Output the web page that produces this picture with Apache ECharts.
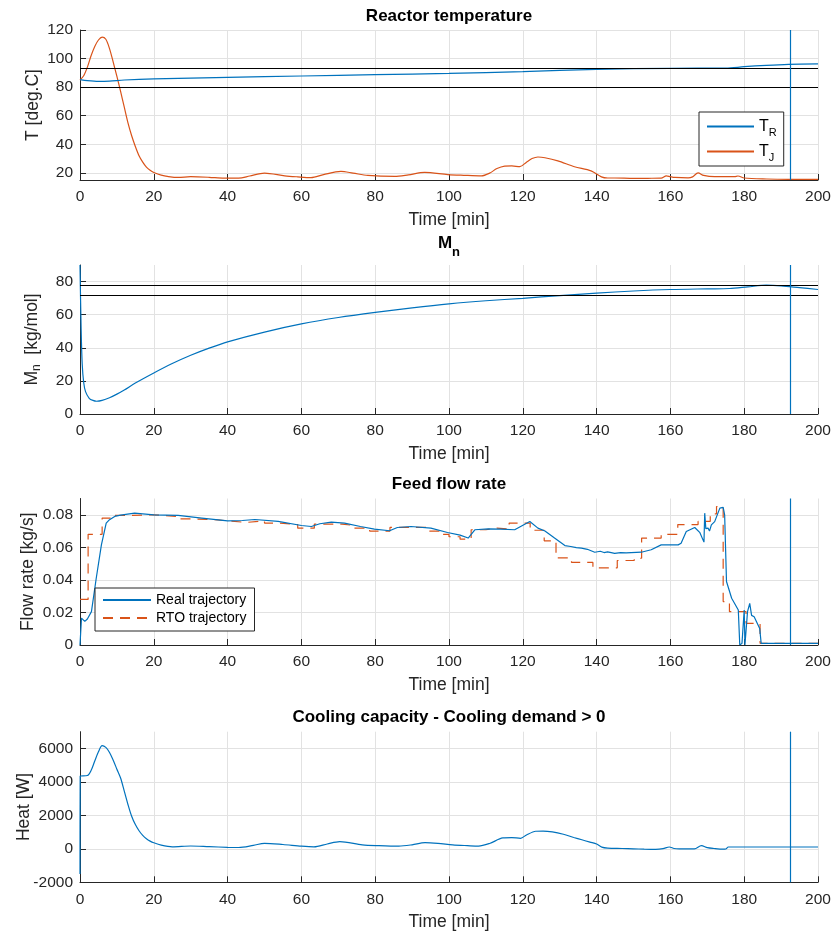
<!DOCTYPE html>
<html>
<head>
<meta charset="utf-8">
<script src="https://cdn.jsdelivr.net/npm/echarts@6/dist/echarts.min.js"></script>
<style>
  html, body { margin: 0; padding: 0; background: #fff; }
  #chart { width: 832px; height: 934px; }
</style>
</head>
<body>
<div id="chart"></div>
<script>
// ---------- Reactor temperature ----------
const TIME_TR = [0, 2, 5, 8, 12, 20, 40, 60, 80, 100, 120, 140, 160, 175, 180, 186, 192, 200];
const TEMP_TR = [85.2, 84.5, 84.0, 84.2, 85.0, 85.8, 86.8, 87.8, 88.7, 89.6, 90.8, 92.5, 93.2, 93.3, 94.3, 95.3, 96.0, 96.3];

const TIME_TJ = [0, 1, 2, 3, 4, 5, 6, 7, 8, 9, 10, 11, 12, 13, 14, 15, 16, 17, 18, 19, 20, 22, 24, 26.6, 30, 35, 39, 43, 46, 50, 55.5, 59, 62.6, 66, 70.7, 74, 78, 85.3, 89, 93.4, 99.7, 104, 108.8, 111, 113, 115.1, 117, 119.2, 121, 122.5, 124.1, 126, 129.5, 134, 138.5, 141.3, 143, 144.9, 150, 153.9, 157.5, 158.9, 160, 161.2, 164.8, 166, 167.5, 169, 172, 177.4, 178.3, 180, 186.1, 192, 200];
const TEMP_TJ = [85, 88, 94, 102, 108.5, 113, 115, 113.5, 107, 97.5, 87.5, 77, 66, 55, 46, 38.5, 32, 27.5, 24, 21.8, 20.3, 18.4, 17.4, 16.8, 17.3, 16.9, 16.3, 16.3, 17.8, 19.8, 17.9, 17.2, 16.7, 18.8, 21, 19.8, 18.2, 17.5, 18.6, 20.3, 18.8, 18.3, 17.9, 19.8, 23, 24.7, 24.9, 24.3, 27.5, 30, 31.1, 30.6, 28.4, 24.3, 21.4, 17.2, 16.4, 16.4, 16.1, 16.2, 16.3, 17.9, 17.3, 16.8, 16.5, 17.2, 20, 18.2, 17.3, 17.3, 17.8, 16.4, 15.7, 15.5, 15.5];
const TEMP_LIMITS = [93, 80];

// ---------- Number-average molar mass ----------
const TIME_MN = [0, 0.3, 0.6, 1, 1.5, 2.5, 3.5, 4.5, 6, 8, 10, 12, 15, 20, 25, 30, 35, 40, 50, 60, 70, 80, 90, 100, 110, 120, 130, 140, 150, 160, 170, 176, 181, 186, 190, 195, 200];
const MN = [90, 52, 30, 19, 13.5, 9.5, 8.2, 7.7, 8.2, 9.8, 12, 14.5, 18.7, 24.8, 30.5, 35.5, 39.8, 43.6, 49.5, 54.4, 58.3, 61.4, 64.1, 66.5, 68.4, 69.9, 71.5, 73, 74.3, 75.2, 75.6, 75.8, 76.8, 77.8, 77.4, 76.3, 75.2];
const MN_LIMITS = [78, 72];

// ---------- Feed flow rate ----------
const TIME_FLOW = [0, 0.4, 1.3, 2, 3.1, 4.4, 5.8, 7.1, 8, 9.4, 11, 14.8, 20, 26.6, 33, 40, 44, 47.4, 53.7, 60, 62.7, 65, 68.1, 71.7, 76, 79.8, 83.9, 86, 89.7, 95.1, 99.6, 103, 105.2, 107, 110.6, 114, 117.8, 121.9, 124.1, 126, 128.6, 131.4, 133, 134.5, 135.9, 137.5, 138.5, 139.5, 141, 142, 143, 144.9, 146.5, 148, 152.1, 154.8, 157.5, 162.1, 162.9, 164.3, 166.6, 168, 169.1, 169.3, 169.6, 170.2, 170.6, 171.1, 172, 173.4, 174.3, 174.7, 175.2, 176.6, 178.4, 178.8, 179.4, 180, 180.2, 180.6, 180.9, 181.5, 182, 182.7, 184.2, 184.6, 200];
const FLOW_REAL = [0, 0.0165, 0.0145, 0.016, 0.0205, 0.041, 0.0615, 0.0749, 0.077, 0.079, 0.0798, 0.081, 0.080, 0.0796, 0.078, 0.0763, 0.0765, 0.0771, 0.0759, 0.0734, 0.0728, 0.0745, 0.0755, 0.0749, 0.0728, 0.0712, 0.0702, 0.0722, 0.0728, 0.0718, 0.0691, 0.0675, 0.0657, 0.0708, 0.0714, 0.0712, 0.0708, 0.0759, 0.0718, 0.0700, 0.0657, 0.0611, 0.0605, 0.0598, 0.0595, 0.0588, 0.0579, 0.057, 0.0576, 0.0568, 0.0572, 0.0563, 0.0568, 0.0566, 0.057, 0.0585, 0.0615, 0.0615, 0.0625, 0.0697, 0.0722, 0.069, 0.0632, 0.081, 0.0715, 0.0718, 0.070, 0.0738, 0.0758, 0.0841, 0.0845, 0.080, 0.039, 0.0287, 0.0215, 0.0, 0.001, 0.0215, 0.0, 0.0, 0.0205, 0.0256, 0.0182, 0.0174, 0.0102, 0.001, 0.001];

const TIME_RTO = [0, 2.2, 6, 8.5, 13, 20, 26, 30, 36, 40, 45, 50, 54, 59, 63.5, 71, 74, 78.5, 84, 94.5, 97.3, 100, 103, 106, 110, 113, 116.3, 122, 125.8, 129, 133.2, 139, 145.6, 150.2, 152.2, 157.5, 162, 167.5, 170.8, 172.5, 174.3, 176, 180.5, 184.3, 200];
const FLOW_RTO = [0.028, 0.068, 0.078, 0.0796, 0.080, 0.079, 0.0775, 0.0771, 0.0763, 0.0753, 0.0763, 0.0749, 0.074, 0.0718, 0.0743, 0.0735, 0.0718, 0.070, 0.0722, 0.070, 0.068, 0.0665, 0.065, 0.0708, 0.0718, 0.0712, 0.0749, 0.0705, 0.064, 0.0535, 0.0507, 0.0474, 0.0519, 0.0533, 0.0657, 0.068, 0.074, 0.0759, 0.0806, 0.0851, 0.0267, 0.0205, 0.0133, 0.001, 0.001];

// ---------- Cooling capacity minus cooling demand ----------
const TIME_Q = [0, 0.05, 2, 3, 4, 5, 6, 7, 8, 9, 10, 11, 12, 13, 14, 15, 16, 17, 18, 19, 20, 22, 25, 30, 35, 40, 43, 47, 50, 55, 60, 63.4, 67, 70.4, 76.5, 81, 86.4, 90, 93.5, 97, 101, 105, 108, 111, 114.6, 117, 119.4, 121, 123.5, 125.5, 128, 131, 133.8, 136, 138.2, 140, 141.4, 143, 146.9, 150, 152.9, 156, 158, 159.7, 161, 162.4, 166.5, 168.4, 170, 171.8, 174.3, 175, 175.7, 200];
const HEAT = [-1500, 4350, 4380, 4680, 5250, 5800, 6170, 6060, 5760, 5290, 4760, 4230, 3450, 2650, 1950, 1450, 1080, 800, 600, 460, 360, 220, 120, 170, 130, 90, 80, 210, 330, 260, 160, 120, 290, 430, 240, 190, 160, 240, 370, 330, 240, 190, 160, 320, 650, 670, 630, 830, 1050, 1060, 1010, 870, 680, 540, 400, 290, 100, 40, 20, 0, -20, -30, 10, 110, 20, 0, 0, 190, 70, 20, -20, -10, 110, 110];

// Current time marker and tick labels
const NOW = 192.4;
const X_TICKS = [0, 20, 40, 60, 80, 100, 120, 140, 160, 180, 200];
const Y_TICKS_T = [20, 40, 60, 80, 100, 120];
const Y_TICKS_MN = [0, 20, 40, 60, 80];
const Y_TICKS_FLOW = [0, 0.02, 0.04, 0.06, 0.08];
const Y_TICKS_HEAT = [-2000, 0, 2000, 4000, 6000];

const BLUE = '#0072BD';
const ORANGE = '#D95319';
const AXIS = '#262626';
const FONT = 'Liberation Sans';

function pairs(xs, ys) { return xs.map((x, i) => [x, ys[i]]); }

const grids = [
  { left: 80, right: 14, top: 30, height: 150, outerBoundsMode: 'none' },
  { left: 80, right: 14, top: 265, height: 149, outerBoundsMode: 'none' },
  { left: 80, right: 14, top: 498.5, height: 146.5, outerBoundsMode: 'none' },
  { left: 80, right: 14, top: 731.7, height: 150.6, outerBoundsMode: 'none' }
];

const gridLine = { show: true, lineStyle: { color: '#e2e2e2', width: 1 } };
const plain = v => String(v);

function xAxisFor(i) {
  return {
    type: 'value', gridIndex: i, min: 0, max: 200, interval: 20,
    name: 'Time [min]', nameLocation: 'middle', nameGap: 31, nameMoveOverlap: false,
    nameTextStyle: { fontFamily: FONT, fontSize: 17.5, color: AXIS },
    axisLine: { show: true, onZero: false, lineStyle: { color: AXIS, width: 1 } },
    axisTick: { show: true, inside: true, length: 6, lineStyle: { color: AXIS }, customValues: X_TICKS },
    axisLabel: { fontFamily: FONT, fontSize: 15.5, color: AXIS, margin: 9, customValues: X_TICKS, formatter: plain },
    splitLine: gridLine
  };
}

const subRich = {
  m: { fontFamily: FONT, fontSize: 17.5, color: AXIS },
  s: { fontFamily: FONT, fontSize: 12, color: AXIS, padding: [9, 0, 0, 0] }
};

function yAxisFor(i, min, max, ticks, name, gap, fmt) {
  return {
    type: 'value', gridIndex: i, min: min, max: max,
    name: name, nameLocation: 'middle', nameGap: gap, nameRotate: 90, nameMoveOverlap: false,
    nameTextStyle: { fontFamily: FONT, fontSize: 17.5, color: AXIS, rich: subRich },
    axisLine: { show: true, onZero: false, lineStyle: { color: AXIS, width: 1 } },
    axisTick: { show: true, inside: true, length: 6, lineStyle: { color: AXIS }, customValues: ticks },
    axisLabel: { fontFamily: FONT, fontSize: 15.5, color: AXIS, margin: 7, customValues: ticks, formatter: fmt || plain },
    splitLine: gridLine
  };
}

function marks(hLines) {
  const data = hLines.map(v => ({ yAxis: v, lineStyle: { color: '#000', width: 1, type: 'solid' } }));
  data.push({ xAxis: NOW, lineStyle: { color: BLUE, width: 1.2, type: 'solid' } });
  return { silent: true, symbol: ['none', 'none'], label: { show: false }, animation: false, data: data };
}

function lineSeries(name, xi, data, color, extra) {
  return Object.assign({
    name: name, type: 'line', xAxisIndex: xi, yAxisIndex: xi, data: data,
    showSymbol: false, symbol: 'none', color: color,
    lineStyle: { color: color, width: 1.2 }, animation: false
  }, extra || {});
}

const legendRich = {
  m: { fontFamily: FONT, fontSize: 16, color: '#000', lineHeight: 23 },
  s: { fontFamily: FONT, fontSize: 11, color: '#000', lineHeight: 11, verticalAlign: 'bottom' }
};

const option = {
  backgroundColor: '#fff',
  animation: false,
  grid: grids,
  xAxis: [0, 1, 2, 3].map(xAxisFor),
  yAxis: [
    yAxisFor(0, 15, 120, Y_TICKS_T, 'T [deg.C]', 38),
    yAxisFor(1, 0, 90, Y_TICKS_MN, '{m|M}{s|n}{m|  [kg/mol]}', 37),
    yAxisFor(2, 0, 0.09, Y_TICKS_FLOW, 'Flow rate [kg/s]', 43, v => (v === 0 ? '0' : v.toFixed(2))),
    yAxisFor(3, -2000, 7000, Y_TICKS_HEAT, 'Heat [W]', 47)
  ],
  legend: [
    {
      data: ['T_R', 'T_J'], orient: 'vertical', left: 699, top: 112,
      padding: [3, 7, 3, 7], itemGap: 2, itemWidth: 47, itemHeight: 10,
      borderColor: AXIS, borderWidth: 1, backgroundColor: '#fff', selectedMode: false,
      itemStyle: { opacity: 0 },
      formatter: n => (n === 'T_R' ? '{m|T}{s|R}' : '{m|T}{s|J}'),
      textStyle: { lineHeight: 23, rich: legendRich }
    },
    {
      data: ['Real trajectory', 'RTO trajectory'], orient: 'vertical', left: 95, top: 588,
      padding: [4, 8, 5, 7], itemGap: 2, itemWidth: 48, itemHeight: 10,
      borderColor: AXIS, borderWidth: 1, backgroundColor: '#fff', selectedMode: false,
      itemStyle: { opacity: 0 },
      textStyle: { fontFamily: FONT, fontSize: 14, color: '#000', lineHeight: 16 }
    }
  ],
  graphic: [
    { type: 'text', x: 449, y: 16, style: { text: 'Reactor temperature', fontFamily: FONT, fontSize: 17, fontWeight: 'bold', fill: '#000', align: 'center', verticalAlign: 'middle' } },
    { type: 'text', x: 449, y: 247, style: { text: '{b|M}{bs|n}', align: 'center', verticalAlign: 'middle',
      rich: { b: { fontFamily: FONT, fontSize: 17, fontWeight: 'bold', fill: '#000', lineHeight: 24, verticalAlign: 'top' },
              bs: { fontFamily: FONT, fontSize: 13, fontWeight: 'bold', fill: '#000', lineHeight: 13, verticalAlign: 'bottom' } } } },
    { type: 'text', x: 449, y: 484, style: { text: 'Feed flow rate', fontFamily: FONT, fontSize: 17, fontWeight: 'bold', fill: '#000', align: 'center', verticalAlign: 'middle' } },
    { type: 'text', x: 449, y: 717, style: { text: 'Cooling capacity - Cooling demand > 0', fontFamily: FONT, fontSize: 17, fontWeight: 'bold', fill: '#000', align: 'center', verticalAlign: 'middle' } }
  ],
  series: [
    lineSeries('T_R', 0, pairs(TIME_TR, TEMP_TR), BLUE, { smooth: 0.3, markLine: marks(TEMP_LIMITS), z: 3 }),
    lineSeries('T_J', 0, pairs(TIME_TJ, TEMP_TJ), ORANGE, { smooth: 0.3, z: 2 }),
    lineSeries('Mn', 1, pairs(TIME_MN, MN), BLUE, { smooth: 0.3, markLine: marks(MN_LIMITS) }),
    lineSeries('Real trajectory', 2, pairs(TIME_FLOW, FLOW_REAL), BLUE, { markLine: marks([]), z: 3 }),
    lineSeries('RTO trajectory', 2, pairs(TIME_RTO, FLOW_RTO), ORANGE, { step: 'end', lineStyle: { color: ORANGE, width: 1.2, type: [10, 7] }, z: 2 }),
    lineSeries('Heat', 3, pairs(TIME_Q, HEAT), BLUE, { smooth: 0.3, markLine: marks([]) })
  ]
};

const chart = echarts.init(document.getElementById('chart'), null, { renderer: 'canvas' });
chart.setOption(option);
</script>
</body>
</html>
